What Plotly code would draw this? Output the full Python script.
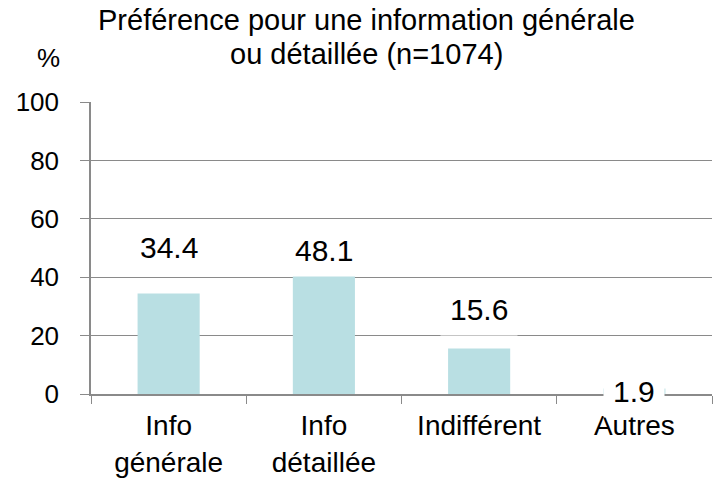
import plotly.graph_objects as go

categories = ["Info<br>générale", "Info<br>détaillée", "Indifférent", "Autres"]
values = [34.4, 48.1, 15.6, 1.9]
value_labels = ["34.4", "48.1", "15.6", "1.9"]
label_pos = [50.3, 49.0, 29.0, 1.0]
y_ticks = [0, 20, 40, 60, 80, 100]
title_lines = ["Préférence pour une information générale", "ou détaillée (n=1074)"]

FONT = "Liberation Sans, Arial, sans-serif"
GRID = "#8a8a8a"

fig = go.Figure()
fig.add_trace(go.Bar(
    x=categories, y=values, width=0.4,
    marker=dict(color="#b9dfe3", line=dict(width=0)),
    hoverinfo="skip",
))

for c, lab, yp in zip(categories, value_labels, label_pos):
    fig.add_annotation(x=c, y=yp, xref="x", yref="y", text=lab, showarrow=False,
                       font=dict(family=FONT, size=30, color="black"),
                       bgcolor="white", borderpad=9, yanchor="middle")

for line, yp in zip(title_lines, [1.281, 1.164]):
    fig.add_annotation(x=0.443, y=yp, xref="paper", yref="paper", text=line,
                       showarrow=False, xanchor="center", yanchor="middle",
                       font=dict(family=FONT, size=29, color="black"))

fig.add_annotation(x=-0.069, y=1.151, xref="paper", yref="paper", text="%",
                   showarrow=False, xanchor="center", yanchor="middle",
                   font=dict(family=FONT, size=26, color="black"))

fig.update_layout(
    width=713, height=480,
    margin=dict(l=91, r=1, t=102, b=86),
    paper_bgcolor="white", plot_bgcolor="white",
    showlegend=False,
    font=dict(family=FONT, color="black"),
    xaxis=dict(showline=True, linecolor=GRID, linewidth=1.5,
               ticks="outside", ticklen=8, tickcolor=GRID, tickson="boundaries",
               ticklabelstandoff=6, automargin=False,
               tickfont=dict(family=FONT, size=28, color="black"),
               showgrid=False, fixedrange=True),
    yaxis=dict(range=[0, 100], tickvals=y_ticks, showline=True, linecolor=GRID, linewidth=1.5,
               ticks="outside", ticklen=9, tickcolor=GRID, ticklabelstandoff=16,
               automargin=False,
               tickfont=dict(family=FONT, size=26, color="black"),
               showgrid=True, gridcolor=GRID, gridwidth=1, zeroline=False, fixedrange=True),
)

fig.write_html("out.html", config={"displayModeBar": False},
               post_script="document.body.style.margin='0';document.body.style.overflow='hidden';")
